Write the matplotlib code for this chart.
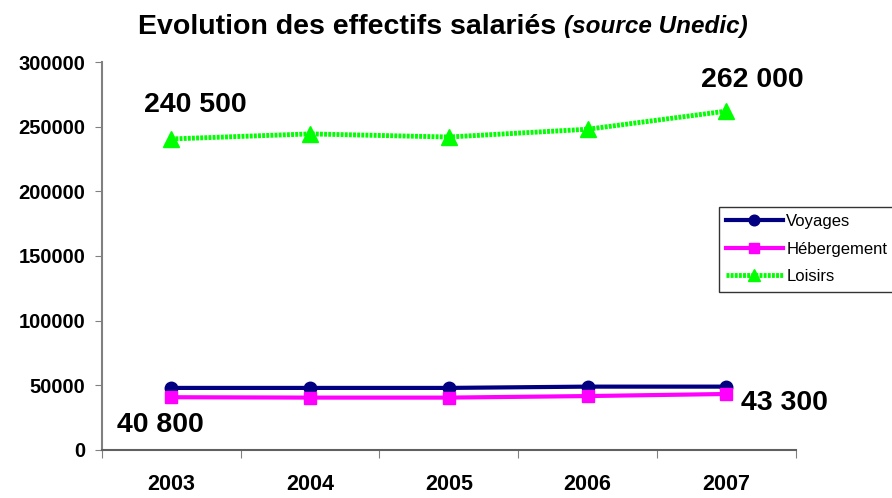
import matplotlib
matplotlib.use("Agg")
import matplotlib.pyplot as plt

years = ["2003", "2004", "2005", "2006", "2007"]
voyages = [48000, 48000, 48000, 49000, 49000]
hebergement = [40800, 40500, 40500, 41700, 43300]
loisirs = [240500, 244400, 242000, 248000, 262000]
yticks = [0, 50000, 100000, 150000, 200000, 250000, 300000]

plt.rcParams['font.family'] = ['Liberation Sans', 'DejaVu Sans']

fig = plt.figure(figsize=(8.92, 4.98), dpi=100)
ax = fig.add_axes([0.1143, 0.0964, 0.7777, 0.7791])

x = list(range(len(years)))
ax.plot(x, voyages, color='#000080', lw=3, marker='o', ms=9, label='Voyages', zorder=3)
ax.plot(x, hebergement, color='#FF00FF', lw=3, marker='s', ms=9, label='Hébergement', zorder=3)
ax.plot(x, loisirs, color='#00FF00', lw=3.5, marker='^', ms=11, label='Loisirs', zorder=3,
        linestyle=(0, (0.6, 0.25)))

ax.set_xlim(-0.5, len(years) - 0.5)
ax.set_ylim(0, 300000)
ax.set_yticks(yticks)
ax.set_yticklabels([str(v) for v in yticks], fontsize=14.5, fontweight='bold')
ax.set_xticks([i - 0.5 for i in range(len(years) + 1)])
ax.set_xticklabels([])
ax.set_xticks(x, minor=True)
ax.set_xticklabels(years, minor=True, fontsize=15.5, fontweight='bold')
ax.tick_params(axis='x', which='minor', length=0, pad=17)
ax.tick_params(axis='x', which='major', length=6, color='#808080', direction='out')
ax.tick_params(axis='y', length=5, color='#808080', direction='out', pad=7)

for s in ['top', 'right']:
    ax.spines[s].set_visible(False)
ax.spines['left'].set_color('#808080')
ax.spines['bottom'].set_color('#606060')
ax.spines['left'].set_linewidth(1.5)
ax.spines['bottom'].set_linewidth(1.5)

ann = dict(fontsize=20.5, fontweight='bold')
ax.text(0.17, 266500, "240 500", ha='center', va='center', **ann)
ax.text(4.19, 286000, "262 000", ha='center', va='center', **ann)
ax.text(-0.08, 19300, "40 800", ha='center', va='center', **ann)
ax.text(4.42, 36300, "43 300", ha='center', va='center', **ann)

fig.text(0.632, 0.946, "Evolution des effectifs salariés ", ha='right', va='center',
         fontsize=20.5, fontweight='bold')
fig.text(0.632, 0.946, "(source Unedic)", ha='left', va='center',
         fontsize=17.5, fontweight='bold', style='italic')

leg = ax.legend(loc='upper left', bbox_to_anchor=(0.889, 0.627), frameon=True, fancybox=False,
                fontsize=12, handlelength=3.4, handletextpad=0.2, borderpad=0.45,
                labelspacing=0.75, borderaxespad=0, markerscale=0.85)
leg.get_frame().set_edgecolor('black')
leg.get_frame().set_linewidth(1)

fig.savefig("out.png", dpi=100)
